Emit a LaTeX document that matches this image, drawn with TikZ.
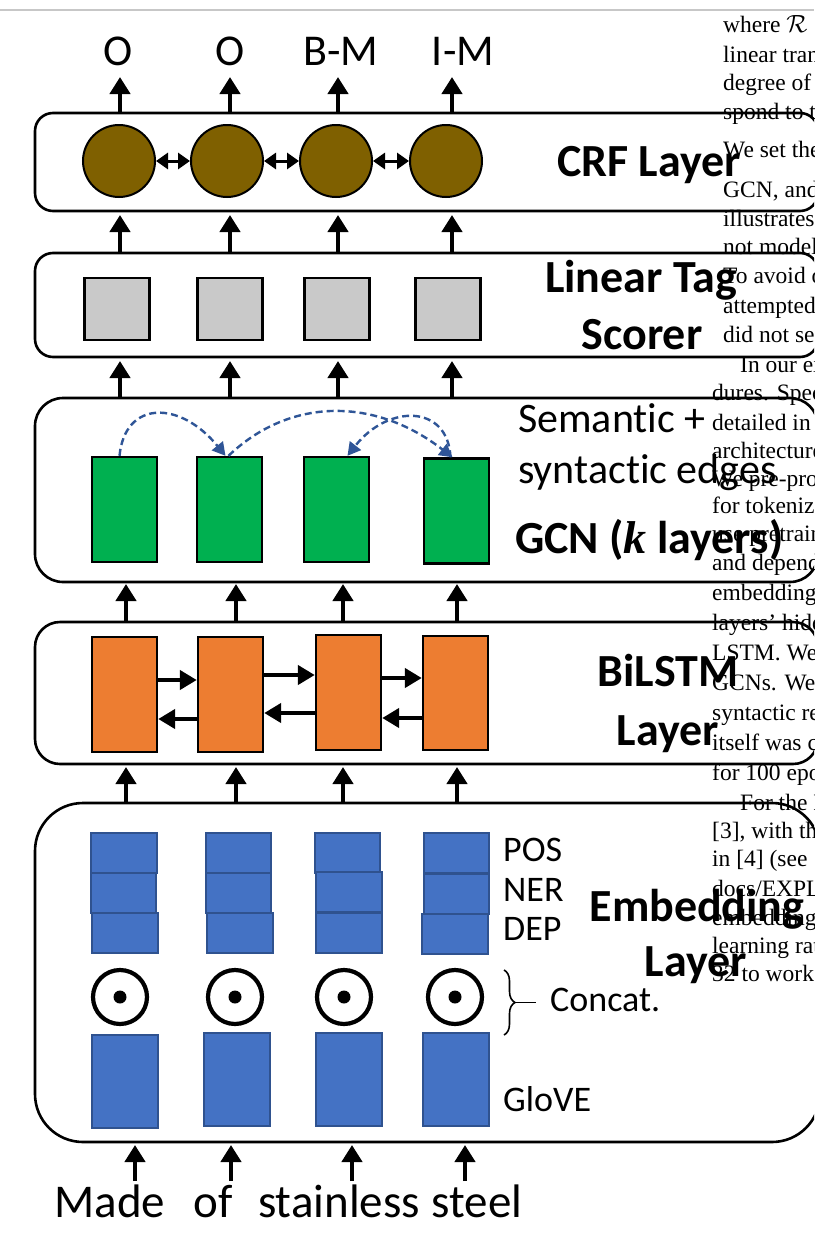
\documentclass[tikz,border=0pt]{standalone}
\usepackage{fontspec}
\setmainfont{Carlito}[Ligatures=NoCommon]
\newfontfamily\paperfont{Liberation Serif}
\usetikzlibrary{arrows.meta,decorations.pathreplacing}
\definecolor{crfbrown}{HTML}{7F6000}
\definecolor{tagGray}{HTML}{C9C9C9}
\definecolor{gcnGreen}{HTML}{00B050}
\definecolor{lstmOrange}{HTML}{ED7D31}
\definecolor{embBlue}{HTML}{4472C4}
\definecolor{embEdge}{HTML}{2F528F}
\definecolor{edgeBlue}{HTML}{2F5597}
\newcommand{\kvar}{{\paperfont\bfseries\itshape k}}
\begin{document}
\begin{tikzpicture}[x=1pt,y=-1pt,
  papertext/.style={anchor=base west,inner sep=0pt,font=\paperfont\fontsize{23.5}{28}\selectfont},
  panel/.style={draw,line width=2.6pt,inner sep=0pt,minimum width=783pt},
  crfnode/.style={circle,draw,line width=2pt,fill=crfbrown,minimum size=72pt,inner sep=0pt},
  tagbox/.style={draw,line width=2.2pt,fill=tagGray,minimum width=65pt,minimum height=62pt,inner sep=0pt},
  gcnbox/.style={draw,line width=2.4pt,fill=gcnGreen,minimum width=65pt,minimum height=105pt,inner sep=0pt},
  lstmbox/.style={draw,line width=2.4pt,fill=lstmOrange,minimum width=65pt,minimum height=115pt,inner sep=0pt},
  embbox/.style={draw=embEdge,line width=1.4pt,fill=embBlue,minimum width=65pt,minimum height=40pt,inner sep=0pt},
  glovebox/.style={draw=embEdge,line width=1.4pt,fill=embBlue,minimum width=66pt,minimum height=93pt,inner sep=0pt},
  uparrow/.style={line width=4.4pt,-{Triangle[width=20pt,length=17pt]}},
  harrow/.style={line width=4.4pt,-{Triangle[width=19pt,length=17pt]}},
  dblarrow/.style={line width=3pt,{Triangle[width=16pt,length=12pt]}-{Triangle[width=16pt,length=12pt]}},
  semedge/.style={edgeBlue,line width=2.4pt,dash pattern=on 7pt off 4pt,-{Triangle[width=14pt,length=13pt]}},
  heading/.style={anchor=base,inner sep=0pt,font=\bfseries\fontsize{46}{46}\selectfont},
  plainlbl/.style={anchor=base west,inner sep=0pt,font=\fontsize{36}{36}\selectfont},
  edgelbl/.style={anchor=base west,inner sep=0pt,font=\fontsize{42}{42}\selectfont},
  toplbl/.style={anchor=base,inner sep=0pt,font=\fontsize{44}{44}\selectfont},
  wordlbl/.style={anchor=base,inner sep=0pt,font=\fontsize{47}{47}\selectfont}]
\clip (0,0) rectangle (814,1234);
\fill[white] (0,0) rectangle (814,1234);
\draw[black!22,line width=1.2pt] (0,10) -- (814,10);

% ---- page text behind the figure ----
\node[papertext] (p0) at (723,32) {where $\mathcal{R} =$ the set};
\node[papertext] (p1) at (723,62) {linear transformation};
\node[papertext] (p2) at (723,90) {degree of the};
\node[papertext] (p3) at (723,119) {spond to the};
\node[papertext] (p4) at (723,157) {We set the};
\node[papertext] (p5) at (723,197) {GCN, and the};
\node[papertext] (p6) at (723,226) {illustrates the};
\node[papertext] (p7) at (723,254) {not model};
\node[papertext] (p8) at (723,283) {To avoid over};
\node[papertext] (p9) at (723,313) {attempted};
\node[papertext] (p10) at (723,342) {did not see};
\node[papertext] (p11) at (740,372) {In our exp};
\node[papertext] (p12) at (712,400) {dures. Spec};
\node[papertext] (p13) at (712,430) {detailed in};
\node[papertext] (p14) at (712,458) {architecture};
\node[papertext] (p15) at (712,486) {We pre-proc};
\node[papertext] (p16) at (712,513) {for tokeniz};
\node[papertext] (p17) at (712,541) {use pretrained};
\node[papertext] (p18) at (712,570) {and depend};
\node[papertext] (p19) at (712,600) {embeddings};
\node[papertext] (p20) at (712,630) {layers’ hidden};
\node[papertext] (p21) at (712,660) {LSTM. We};
\node[papertext] (p22) at (712,690) {GCNs. We};
\node[papertext] (p23) at (712,720) {syntactic rel};
\node[papertext] (p24) at (712,750) {itself was c};
\node[papertext] (p25) at (712,780) {for 100 epoc};
\node[papertext] (p26) at (740,810) {For the B};
\node[papertext] (p27) at (712,838) {[3], with the};
\node[papertext] (p28) at (712,866) {in [4] (see};
\node[papertext] (p29) at (712,896) {docs/EXPL};
\node[papertext] (p30) at (712,925) {embeddings};
\node[papertext] (p31) at (712,953) {learning rate};
\node[papertext] (p32) at (712,981) {32 to work};

% ---- panels ----
\node[panel,minimum height=98pt,rounded corners=18pt] (crf) at (426.5,162) {};
\node[panel,minimum height=104pt,rounded corners=18pt] (lin) at (426.5,305) {};
\node[panel,minimum height=184pt,rounded corners=28pt] (gcn) at (426.5,490) {};
\node[panel,minimum height=142pt,rounded corners=25pt] (lstm) at (426.5,693) {};
\node[panel,minimum width=785pt,minimum height=339pt,rounded corners=48pt] (emb) at (427.5,972.5) {};

% ---- output labels ----
\node[toplbl] (l1) at (118,65) {O};
\node[toplbl] (l2) at (230,65) {O};
\node[toplbl] (l3) at (341,65) {B-M};
\node[toplbl] (l4) at (463,65) {I-M};

% ---- CRF layer ----
\node[crfnode] (c1) at (119,161) {};
\node[crfnode] (c2) at (227,161) {};
\node[crfnode] (c3) at (336,161) {};
\node[crfnode] (c4) at (446,161) {};
\draw[dblarrow] (c1) -- (c2);
\draw[dblarrow] (c2) -- (c3);
\draw[dblarrow] (c3) -- (c4);
\node[heading] (crflbl) at (649,176) {CRF Layer};

% ---- linear tag scorer ----
\node[tagbox] (t1) at (117,309) {};
\node[tagbox] (t2) at (230,309) {};
\node[tagbox] (t3) at (337,309) {};
\node[tagbox] (t4) at (448,309) {};
\node[heading] (linlbl1) at (641,292) {Linear Tag};
\node[heading] (linlbl2) at (642,349) {Scorer};

% ---- GCN ----
\node[gcnbox] (g1) at (124.5,509.5) {};
\node[gcnbox] (g2) at (229.5,509.5) {};
\node[gcnbox] (g3) at (336.5,509.5) {};
\node[gcnbox] (g4) at (456.5,511) {};
\draw[semedge] ([xshift=-5pt]g1.north) .. controls (125,400) and (180,400) .. ([xshift=-4pt]g2.north);
\draw[semedge] ([xshift=-1pt]g2.north) .. controls (290,397) and (375,397) .. ([xshift=-4pt]g4.north);
\draw[semedge] ([xshift=-6pt]g4.north) .. controls (448,404) and (388,404) .. ([xshift=11pt]g3.north);
\node[edgelbl] (semlbl1) at (518,432) {Semantic +};
\node[edgelbl] (semlbl2) at (518,483) {syntactic edges};
\node[heading,anchor=base west] (gcnlbl) at (515,553) {GCN {(}\kvar{} layers{)}};

% ---- BiLSTM ----
\node[lstmbox] (o1) at (124.5,694.5) {};
\node[lstmbox] (o2) at (230.5,694.5) {};
\node[lstmbox] (o3) at (348.5,692.5) {};
\node[lstmbox,minimum height=114pt] (o4) at (455.5,693) {};
\coordinate (rf1) at (0,680);
\coordinate (rf2) at (0,675);
\coordinate (rf3) at (0,678);
\coordinate (rb1) at (0,719);
\coordinate (rb2) at (0,713);
\coordinate (rb3) at (0,718);
\draw[harrow] (o1.east |- rf1) -- (o2.west |- rf1);
\draw[harrow] (o2.east |- rf2) -- (o3.west |- rf2);
\draw[harrow] (o3.east |- rf3) -- (o4.west |- rf3);
\draw[harrow] (o2.west |- rb1) -- (o1.east |- rb1);
\draw[harrow] (o3.west |- rb2) -- (o2.east |- rb2);
\draw[harrow] (o4.west |- rb3) -- (o3.east |- rb3);
\node[heading] (lstmlbl1) at (668,686) {BiLSTM};
\node[heading] (lstmlbl2) at (668,745) {Layer};

% ---- embedding layer ----
\node[embbox,minimum width=66pt] (pos1) at (124,853) {};
\node[embbox] (ner1) at (123.5,893) {};
\node[embbox,minimum width=66pt] (dep1) at (125,933) {};
\node[embbox] (pos2) at (238.5,853) {};
\node[embbox] (ner2) at (238.5,893) {};
\node[embbox,minimum width=66pt] (dep2) at (240,933) {};
\node[embbox] (pos3) at (347.5,853) {};
\node[embbox,minimum width=66pt] (ner3) at (349,892) {};
\node[embbox,minimum width=66pt] (dep3) at (349,933) {};
\node[embbox] (pos4) at (456.5,853) {};
\node[embbox] (ner4) at (456.5,894) {};
\node[embbox,minimum width=66pt] (dep4) at (455,934) {};
\foreach \i/\x in {1/120,2/235,3/344,4/455}{
  \node[circle,draw,line width=4.2pt,minimum size=54pt,inner sep=0pt] (dot\i) at (\x,997) {};
  \fill (dot\i.center) circle[radius=6.5pt];
}
\node[glovebox] (gl1) at (125,1081.5) {};
\node[glovebox] (gl2) at (237,1079.5) {};
\node[glovebox] (gl3) at (349,1079.5) {};
\node[glovebox] (gl4) at (456,1079.5) {};
\node[plainlbl] (poslbl) at (503,861) {POS};
\node[plainlbl] (nerlbl) at (503,901) {NER};
\node[plainlbl] (deplbl) at (503,940) {DEP};
\node[plainlbl] (glovelbl) at (503,1111) {GloVE};
\node[plainlbl] (concatlbl) at (550,1011) {Concat.};
\coordinate (brtop) at (504,970);
\coordinate (brbot) at (504,1035);
\coordinate (brtip) at (516,1002.5);
\coordinate (brtail) at (536,1002.5);
\draw[line width=1.6pt,decorate,decoration={brace,amplitude=11pt}] (brtop) -- (brbot);
\draw[line width=1.6pt] (brtip) -- (brtail);
\node[heading] (emblbl1) at (697,921) {Embedding};
\node[heading] (emblbl2) at (696,976) {Layer};

% ---- vertical arrows between layers ----
\foreach \i/\x in {1/120,2/230,3/338,4/452}{
  \coordinate (oa\i) at (\x,113); \coordinate (ob\i) at (\x,77);
  \draw[uparrow] (oa\i) -- (ob\i);
  \coordinate (la\i) at (\x,253); \coordinate (lb\i) at (\x,215);
  \draw[uparrow] (la\i) -- (lb\i);
  \coordinate (ga\i) at (\x,398); \coordinate (gb\i) at (\x,361);
  \draw[uparrow] (ga\i) -- (gb\i);
}
\foreach \i/\x in {1/126,2/236,3/343,4/457}{
  \coordinate (ma\i) at (\x,622); \coordinate (mb\i) at (\x,584);
  \draw[uparrow] (ma\i) -- (mb\i);
  \coordinate (ea\i) at (\x,803); \coordinate (eb\i) at (\x,767);
  \draw[uparrow] (ea\i) -- (eb\i);
}
\foreach \i/\x in {1/135,2/231,3/352,4/465}{
  \coordinate (wa\i) at (\x,1181); \coordinate (wb\i) at (\x,1145);
  \draw[uparrow] (wa\i) -- (wb\i);
}

% ---- input words ----
\node[wordlbl] (w1) at (110,1217) {Made};
\node[wordlbl] (w2) at (213,1217) {of};
\node[wordlbl] (w3) at (339,1217) {stainless};
\node[wordlbl] (w4) at (477,1217) {steel};
\end{tikzpicture}
\end{document}
